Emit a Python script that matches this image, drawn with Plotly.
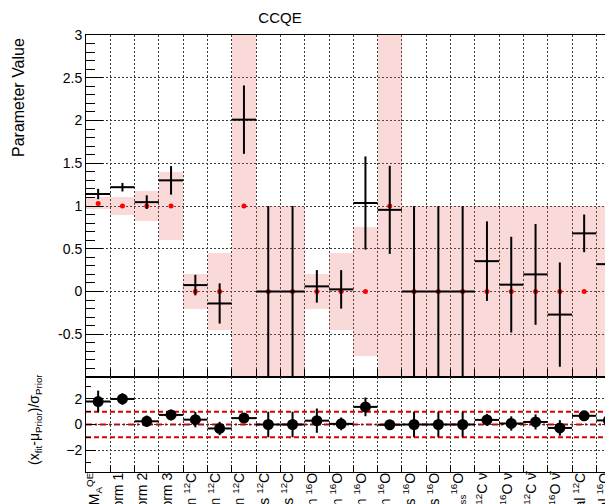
import plotly.graph_objects as go

# ---------------- data ----------------
bins = list(range(1, 23))
labels = [
    "M<sub>A</sub><sup>QE</sup>",
    "Low Q<sup>2</sup> Norm 1",
    "Low Q<sup>2</sup> Norm 2",
    "Low Q<sup>2</sup> Norm 3",
    "p<sub>3/2</sub> Shell Fraction <sup>12</sup>C",
    "s<sub>1/2</sub> Shell Fraction <sup>12</sup>C",
    "SRC Fraction <sup>12</sup>C",
    "p-shell P<sub>Miss</sub> Shapes <sup>12</sup>C",
    "s-shell P<sub>Miss</sub> Shapes <sup>12</sup>C",
    "p<sub>1/2</sub> Shell Fraction <sup>16</sup>O",
    "p<sub>3/2</sub> Shell Fraction <sup>16</sup>O",
    "s<sub>1/2</sub> Shell Fraction <sup>16</sup>O",
    "SRC Fraction <sup>16</sup>O",
    "p<sub>1/2</sub> P<sub>Miss</sub> Shapes <sup>16</sup>O",
    "p<sub>3/2</sub> P<sub>Miss</sub> Shapes <sup>16</sup>O",
    "Shape P<sub>Miss</sub><sup>16</sup>O",
    "E<sub>b</sub> <sup>12</sup>C ν",
    "E<sub>b</sub> <sup>16</sup>O ν",
    "E<sub>b</sub> <sup>12</sup>C ν̄",
    "E<sub>b</sub> <sup>16</sup>O ν̄",
    "Optical Potential <sup>12</sup>C",
    "Optical Potential <sup>16</sup>O",
]
prior = [1.03, 1.0, 1.0, 1.0, 0.0, 0.0, 1.0, 0.0, 0.0, 0.0, 0.0,
         0.0, 1.0, 0.0, 0.0, 0.0, 0.0, 0.0, 0.0, 0.0, 0.0, 0.0]
prior_err = [0.07, 0.11, 0.18, 0.40, 0.20, 0.45, 2.0, 1.0, 1.0, 0.20, 0.45,
             0.75, 2.0, 1.0, 1.0, 1.0, 1.0, 1.0, 1.0, 1.0, 1.0, 1.0]
fit = [1.14, 1.22, 1.045, 1.30, 0.075, -0.14, 2.01, 0.0, 0.0, 0.06, 0.025,
       1.035, 0.955, 0.0, 0.0, 0.0, 0.355, 0.08, 0.20, -0.27, 0.68, 0.32]
fit_err = [0.06, 0.05, 0.08, 0.167, 0.12, 0.235, 0.40, 1.0, 1.0, 0.19, 0.225,
           0.545, 0.515, 1.0, 1.0, 1.0, 0.465, 0.56, 0.59, 0.61, 0.22, 0.30]
pull = [1.8, 2.0, 0.25, 0.75, 0.38, -0.31, 0.5, 0.0, 0.0, 0.3, 0.05,
        1.38, -0.02, 0.0, 0.0, 0.0, 0.36, 0.08, 0.2, -0.27, 0.68, 0.32]
pull_err = [0.85, 0.45, 0.45, 0.42, 0.6, 0.52, 0.2, 1.0, 1.0, 0.95, 0.5,
            0.73, 0.26, 1.0, 1.0, 1.0, 0.47, 0.56, 0.59, 0.61, 0.22, 0.3]

# ---------------- geometry (page offset of 8px from body margin) ----------------
OFF = 8
W, H = 613 - OFF, 504 - OFF
ML, MR, MT, MB = 86 - OFF, 0, 35 - OFF, 504 - 472
PW, PH = W - ML - MR, H - MT - MB
BIN_PX = 24.3
xr = [0.5, 0.5 + PW / BIN_PX]
split = (472 - 377) / PH


def px_x(p):
    return (p - OFF - ML) / PW


def px_y(p):
    return (472 - p) / PH


FONT = "Liberation Sans, Arial, Helvetica, sans-serif"
GRID = "#3a3a3a"
GDASH = "2px,2px"

fig = go.Figure()

# prior bands
fig.add_trace(go.Bar(
    x=bins, base=[p - e for p, e in zip(prior, prior_err)],
    y=[2 * e for e in prior_err], width=1,
    marker=dict(color="rgba(235,95,95,0.24)", line=dict(width=0)),
    xaxis="x", yaxis="y", hoverinfo="skip", showlegend=False))
# prior central values
fig.add_trace(go.Scatter(
    x=bins, y=prior, mode="markers",
    marker=dict(color="red", size=5),
    xaxis="x", yaxis="y", showlegend=False))
# fitted values
fig.add_trace(go.Scatter(
    x=bins, y=fit, mode="markers",
    marker=dict(color="black", size=2),
    error_y=dict(type="data", array=fit_err, color="black", thickness=2, width=0),
    error_x=dict(type="constant", value=0.5, color="black", thickness=2, width=0),
    xaxis="x", yaxis="y", showlegend=False))
# pulls
fig.add_trace(go.Scatter(
    x=bins, y=pull, mode="markers",
    marker=dict(color="black", size=11),
    error_y=dict(type="data", array=pull_err, color="black", thickness=2, width=0),
    error_x=dict(type="constant", value=0.5, color="black", thickness=2, width=0),
    xaxis="x2", yaxis="y2", showlegend=False))
# invisible trace for the label axis
fig.add_trace(go.Scatter(x=bins, y=pull, mode="markers", opacity=0,
                         xaxis="x3", yaxis="y2", showlegend=False, hoverinfo="skip"))

# reference lines in pull panel
for yv, dash in [(1, "5px,3px"), (-1, "5px,3px"), (0, "6px,3px,2px,3px")]:
    fig.add_shape(type="line", xref="x2", yref="y2", x0=xr[0], x1=xr[1], y0=yv, y1=yv,
                  line=dict(color="#e00000", width=2, dash=dash), layer="below")

common_x = dict(range=xr, tickmode="linear", tick0=0.5, dtick=1, ticks="inside",
                ticklen=8, tickcolor="black", showticklabels=False, showgrid=True,
                gridcolor=GRID, griddash=GDASH, gridwidth=1, showline=True,
                linecolor="black", linewidth=1, mirror=True, zeroline=False)

fig.update_layout(
    width=W, height=H,
    margin=dict(l=ML, r=MR, t=MT, b=MB, autoexpand=False),
    paper_bgcolor="white", plot_bgcolor="white",
    font=dict(family=FONT, color="black"),
    title=dict(text="CCQE", x=(280 - OFF) / W, xanchor="center", y=1 - (18 - OFF) / H,
               yanchor="middle", font=dict(size=15, family=FONT)),
    bargap=0,
    xaxis=dict(domain=[0, 1], anchor="y", **common_x),
    xaxis2=dict(domain=[0, 1], anchor="y2", **dict(common_x, ticklen=7)),
    xaxis3=dict(domain=[0, 1], anchor="y2", overlaying="x2", range=xr,
                tickmode="array", tickvals=bins, ticktext=labels, tickangle=-90,
                ticks="", showgrid=False, showline=False, zeroline=False,
                ticklabelshift=-4, ticklabelstandoff=-3,
                tickfont=dict(size=14, family=FONT), automargin=False, side="bottom"),
    yaxis=dict(domain=[split, 1], anchor="x", range=[-1, 3], tickmode="linear",
               tick0=0, dtick=0.5, ticks="inside", ticklen=17, tickcolor="black",
               minor=dict(tickmode="linear", tick0=0, dtick=0.1, ticks="inside",
                          ticklen=9, tickcolor="black", showgrid=False),
               labelalias={"−1": " ", "−0.5": "-0.5"},
               tickfont=dict(size=14), showgrid=True, gridcolor=GRID, griddash=GDASH,
               showline=True, linecolor="black", zeroline=False, automargin=False),
    yaxis2=dict(domain=[0, split], anchor="x2", range=[-3.72, 3.72], tickmode="linear",
                tick0=0, dtick=2, ticks="inside", ticklen=10, tickcolor="black",
                minor=dict(tickmode="linear", tick0=0, dtick=1, ticks="inside",
                           ticklen=5, tickcolor="black", showgrid=False),
                tickfont=dict(size=14), showgrid=True, gridcolor=GRID, griddash=GDASH,
                showline=True, linecolor="black", zeroline=False, automargin=False),
)

fig.add_annotation(text="Parameter Value", textangle=-90, xref="paper", yref="paper",
                   x=px_x(18), y=px_y(98), xanchor="center", yanchor="middle",
                   showarrow=False, font=dict(size=16, family=FONT))
fig.add_annotation(text="(x<sub>fit</sub>-μ<sub>Prior</sub>)/σ<sub>Prior</sub>",
                   textangle=-90, xref="paper", yref="paper",
                   x=px_x(35), y=px_y(420), xanchor="center", yanchor="middle",
                   showarrow=False, font=dict(size=14, family=FONT))

fig.write_html("out.html")
